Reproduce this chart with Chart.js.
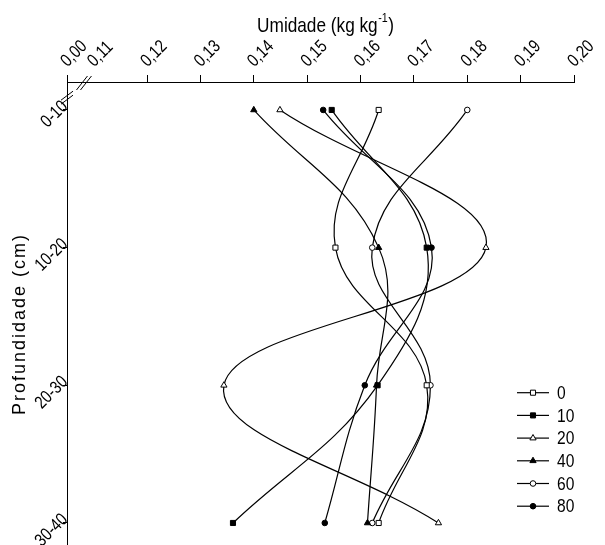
<!DOCTYPE html>
<html>
<head>
<meta charset="utf-8">
<script src="https://cdn.jsdelivr.net/npm/chart.js@4/dist/chart.umd.min.js"></script>
<style>
  html, body { margin: 0; padding: 0; background: #fff; }
  #wrap { width: 605px; height: 545px; position: relative; }
</style>
</head>
<body>
<div id="wrap"><canvas id="umidadeChart"></canvas></div>
<script>
// Dados: umidade (kg kg-1) por profundidade
const profundidades = ['0-10', '10-20', '20-30', '30-40'];
const tratamentos = ['0', '10', '20', '40', '60', '80'];
const umidade0  = [0.1634, 0.1553, 0.1724, 0.1634];
const umidade10 = [0.1546, 0.1724, 0.1632, 0.1361];
const umidade20 = [0.1449, 0.1835, 0.1344, 0.1746];
const umidade40 = [0.1400, 0.1634, 0.1630, 0.1613];
const umidade60 = [0.1800, 0.1622, 0.1731, 0.1622];
const umidade80 = [0.1530, 0.1733, 0.1608, 0.1533];
const xTicks = [0.105, 0.11, 0.12, 0.13, 0.14, 0.15, 0.16, 0.17, 0.18, 0.19, 0.20];
const xTickLabels = ['0,00', '0,11', '0,12', '0,13', '0,14', '0,15', '0,16', '0,17', '0,18', '0,19', '0,20'];

const FONTE = "'Liberation Sans', Arial, sans-serif";
const estilos = ['rect', 'rect', 'triangle', 'triangle', 'circle', 'circle'];
const cheios = [false, true, false, true, false, true];
const raios = [3.6, 3.6, 3.6, 3.6, 2.8, 2.8];
const valores = [umidade0, umidade10, umidade20, umidade40, umidade60, umidade80];

const datasets = tratamentos.map((t, k) => ({
  label: t,
  data: valores[k].map((v, i) => ({ x: v, y: i })),
  borderColor: '#000',
  borderWidth: 1.2,
  tension: 0.4,
  pointStyle: estilos[k],
  pointRadius: raios[k],
  pointBorderWidth: 1,
  pointBorderColor: '#000',
  pointBackgroundColor: cheios[k] ? '#000' : '#fff',
  fill: false
}));

// texto estreito (imita Arial Narrow)
function textoEstreito(ctx, txt, x, y, tam, ang) {
  ctx.save();
  ctx.translate(x, y);
  if (ang) ctx.rotate(ang);
  ctx.scale(0.82, 1);
  ctx.font = tam + 'px ' + FONTE;
  ctx.fillText(txt, 0, 0);
  ctx.restore();
}
function larguraEstreita(ctx, txt, tam) {
  ctx.font = tam + 'px ' + FONTE;
  return ctx.measureText(txt).width * 0.82;
}

// títulos, rótulos, legenda e marcas de quebra dos eixos
const extras = {
  id: 'extras',
  afterDraw(chart) {
    const ctx = chart.ctx;
    const xs = chart.scales.x, ys = chart.scales.y;
    const ca = chart.chartArea;
    ctx.save();
    ctx.fillStyle = '#000';
    ctx.strokeStyle = '#000';
    ctx.textAlign = 'left';
    ctx.textBaseline = 'alphabetic';

    // título do eixo x com expoente
    const main = 'Umidade (kg kg', sup = '-1', tail = ')';
    const w1 = larguraEstreita(ctx, main, 21);
    const w2 = larguraEstreita(ctx, sup, 13);
    const w3 = larguraEstreita(ctx, tail, 21);
    const x0 = 325 - (w1 + w2 + w3) / 2;
    textoEstreito(ctx, main, x0, 32, 21);
    textoEstreito(ctx, sup, x0 + w1 + 0.5, 22, 13);
    textoEstreito(ctx, tail, x0 + w1 + w2 + 1, 32, 21);

    // rótulos do eixo x (inclinados)
    ctx.textBaseline = 'middle';
    ctx.textAlign = 'left';
    xTicks.forEach((v, i) => {
      const px = xs.getPixelForValue(v);
      textoEstreito(ctx, xTickLabels[i], px - 3, ca.top - 18, 18, -Math.PI / 4);
    });

    // rótulos do eixo y (inclinados)
    ctx.textAlign = 'right';
    profundidades.forEach((p, i) => {
      const py = ys.getPixelForValue(i);
      textoEstreito(ctx, p, ca.left - 2, py - 6, 18, -Math.PI / 4);
    });

    // título do eixo y
    ctx.save();
    ctx.translate(20, 324);
    ctx.rotate(-Math.PI / 2);
    ctx.font = '18px ' + FONTE;
    ctx.letterSpacing = '2px';
    ctx.textAlign = 'center';
    ctx.textBaseline = 'middle';
    ctx.fillText('Profundidade (cm)', 0, 0);
    ctx.restore();

    // quebras dos eixos
    ctx.lineWidth = 1;
    const xb = xs.getPixelForValue(0.1079), yTop = ca.top;
    [0, 4].forEach(dx => {
      ctx.beginPath();
      ctx.moveTo(xb - 6 + dx, yTop + 8);
      ctx.lineTo(xb + 5 + dx, yTop - 6);
      ctx.stroke();
    });
    const yb = ys.getPixelForValue(-0.1), xl = ca.left;
    [0, 4].forEach(dy => {
      ctx.beginPath();
      ctx.moveTo(xl - 6, yb + 4 + dy);
      ctx.lineTo(xl + 6, yb - 5 + dy);
      ctx.stroke();
    });

    // legenda
    ctx.textAlign = 'left';
    tratamentos.forEach((t, k) => {
      const y = 392.7 + k * 22.7;
      ctx.lineWidth = 1.2;
      ctx.beginPath();
      ctx.moveTo(517, y);
      ctx.lineTo(549, y);
      ctx.stroke();
      ctx.fillStyle = cheios[k] ? '#000' : '#fff';
      ctx.lineWidth = 1;
      Chart.helpers.drawPoint(ctx, { pointStyle: estilos[k], radius: raios[k], rotation: 0, borderWidth: 1 }, 533, y);
      ctx.fillStyle = '#000';
      ctx.textBaseline = 'middle';
      textoEstreito(ctx, t, 557, y + 1, 19);
    });
    ctx.restore();
  }
};

new Chart(document.getElementById('umidadeChart'), {
  type: 'line',
  data: { datasets },
  options: {
    indexAxis: 'y',
    responsive: true,
    maintainAspectRatio: false,
    animation: false,
    layout: { autoPadding: false, padding: { top: 0, right: 31, bottom: 0, left: 0 } },
    plugins: { legend: { display: false }, tooltip: { enabled: false } },
    scales: {
      x: {
        type: 'linear',
        position: 'top',
        min: 0.105,
        max: 0.20,
        afterBuildTicks: s => { s.ticks = xTicks.map(v => ({ value: v })); },
        afterFit: s => { s.height = 82; s.paddingLeft = 0; s.paddingRight = 0; },
        ticks: { display: false, autoSkip: false },
        grid: {
          drawOnChartArea: false,
          tickLength: 7,
          color: c => (c.tick && Math.abs(c.tick.value - 0.11) < 1e-6) ? 'rgba(0,0,0,0)' : '#000'
        },
        border: { color: '#000', width: 1 }
      },
      y: {
        type: 'linear',
        reverse: true,
        min: -0.203,
        max: 3.16,
        afterBuildTicks: s => { s.ticks = profundidades.map((p, i) => ({ value: i })); },
        afterFit: s => { s.width = 67; s.paddingTop = 0; s.paddingBottom = 0; },
        ticks: { display: false, autoSkip: false },
        grid: { drawOnChartArea: false, tickLength: 4, color: '#000' },
        border: { color: '#000', width: 1 }
      }
    }
  },
  plugins: [extras]
});
</script>
</body>
</html>
